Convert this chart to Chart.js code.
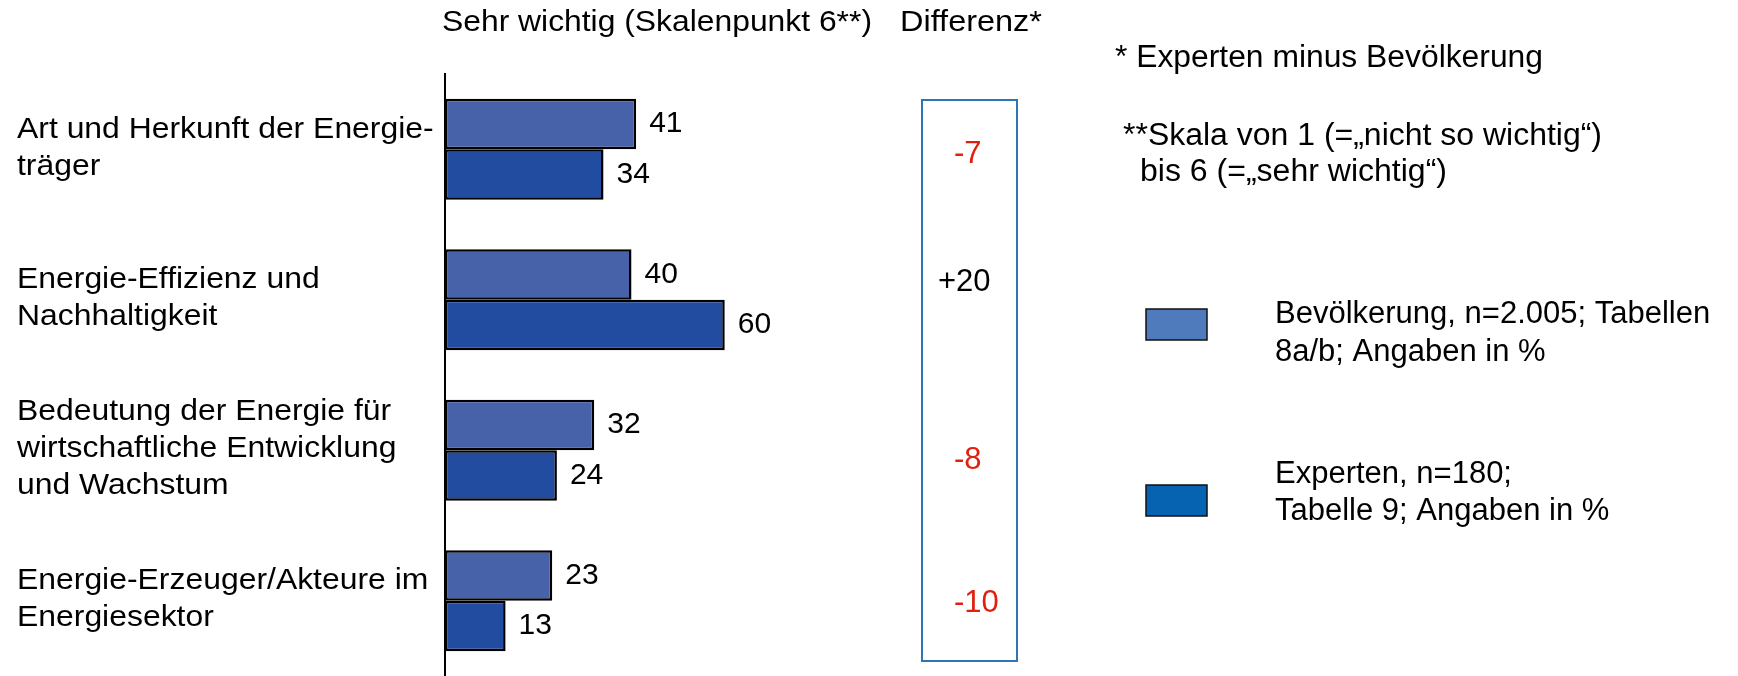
<!DOCTYPE html>
<html>
<head>
<meta charset="utf-8">
<script src="https://cdn.jsdelivr.net/npm/chart.js@4"></script>
<style>
  html, body { margin: 0; padding: 0; background: #fff; overflow: hidden; }
  canvas { display: block; }
</style>
</head>
<body>
<canvas id="chart" width="1738" height="676"></canvas>
<script>
// data
const categories = [
  ['Art und Herkunft der Energie-', 'träger'],
  ['Energie-Effizienz und', 'Nachhaltigkeit'],
  ['Bedeutung der Energie für', 'wirtschaftliche Entwicklung', 'und Wachstum'],
  ['Energie-Erzeuger/Akteure im', 'Energiesektor']
];
const bevoelkerung = [41, 40, 32, 23];
const experten = [34, 60, 24, 13];
const differenz = [-7, 20, -8, -10];

const seriesNames = ['Bevölkerung', 'Experten'];
const barColors = ['#4862aa', '#224ca0'];
const legendColors = ['#4f7bbd', '#0563b1'];
const legendTexts = [
  ['Bevölkerung, n=2.005; Tabellen', '8a/b; Angaben in %'],
  ['Experten, n=180;', 'Tabelle 9; Angaben in %']
];

const FONT = '"Liberation Sans", Arial, sans-serif';

// draw text, optionally squeezed/stretched to a given width
function text(ctx, s, x, y, size, opts = {}) {
  ctx.save();
  ctx.font = size + 'px ' + FONT;
  ctx.fillStyle = opts.color || '#000';
  ctx.textBaseline = 'middle';
  ctx.textAlign = opts.align || 'left';
  let sx = opts.sx || 1;
  if (opts.width) sx = opts.width / ctx.measureText(s).width;
  ctx.translate(x, y);
  ctx.scale(sx, 1);
  ctx.fillText(s, 0, 0);
  ctx.restore();
}

const decorations = {
  id: 'decorations',
  afterDatasetsDraw(chart) {
    const ctx = chart.ctx;
    // value labels next to the bars
    [bevoelkerung, experten].forEach((vals, d) => {
      chart.getDatasetMeta(d).data.forEach((bar, i) => {
        text(ctx, String(vals[i]), bar.x + 13, bar.y, 30);
      });
    });
  },
  afterDraw(chart) {
    const ctx = chart.ctx;
    const y = chart.scales.y;

    // category labels
    categories.forEach((lines, i) => {
      const cy = y.getPixelForValue(i) - 1;
      lines.forEach((t, j) => {
        text(ctx, t, 17, cy + (j - (lines.length - 1) / 2) * 37, 29, { sx: 1.1 });
      });
    });

    // headers
    text(ctx, 'Sehr wichtig (Skalenpunkt 6**)', 442, 23, 30, { width: 430 });
    text(ctx, 'Differenz*', 900, 23, 30, { width: 142 });

    // difference box
    ctx.save();
    ctx.strokeStyle = '#2e75b6';
    ctx.lineWidth = 2;
    ctx.strokeRect(922, 100, 95, 561);
    ctx.restore();
    const diffY = [154, 282, 460, 603];
    differenz.forEach((v, i) => {
      const s = v > 0 ? '+' + v : String(v);
      text(ctx, s, v > 0 ? 938 : 954, diffY[i], 31, { color: v < 0 ? '#e0200f' : '#000' });
    });

    // notes
    text(ctx, '* Experten minus Bevölkerung', 1115, 58, 31, { width: 428 });
    text(ctx, '**Skala von 1 (=„nicht so wichtig“)', 1123, 136, 31, { width: 479 });
    text(ctx, 'bis 6 (=„sehr wichtig“)', 1140, 172, 31, { width: 307 });

    // legend
    const boxY = [309, 485];
    const lineY = [[314, 352], [474, 511]];
    legendColors.forEach((c, k) => {
      ctx.save();
      ctx.fillStyle = c;
      ctx.fillRect(1146, boxY[k], 61, 31);
      ctx.strokeStyle = '#111';
      ctx.lineWidth = 1.5;
      ctx.strokeRect(1146, boxY[k], 61, 31);
      ctx.restore();
      legendTexts[k].forEach((t, j) => text(ctx, t, 1275, lineY[k][j], 31));
    });
  }
};

new Chart(document.getElementById('chart'), {
  type: 'bar',
  data: {
    labels: categories,
    datasets: [
      { label: seriesNames[0], data: bevoelkerung, backgroundColor: barColors[0] },
      { label: seriesNames[1], data: experten, backgroundColor: barColors[1] }
    ]
  },
  options: {
    indexAxis: 'y',
    responsive: false,
    animation: false,
    devicePixelRatio: 1,
    layout: { padding: { left: 437, right: 920, top: 74, bottom: 0 } },
    datasets: {
      bar: {
        borderColor: '#000',
        borderWidth: 2.5,
        borderSkipped: false,
        categoryPercentage: 0.67,
        barPercentage: 1.0
      }
    },
    scales: {
      x: { display: false, min: 0, max: 80 },
      y: {
        display: true,
        ticks: { display: false },
        grid: { display: false },
        border: { display: true, color: '#000', width: 2 }
      }
    },
    plugins: {
      legend: { display: false },
      tooltip: { enabled: false }
    }
  },
  plugins: [decorations]
});
</script>
</body>
</html>
